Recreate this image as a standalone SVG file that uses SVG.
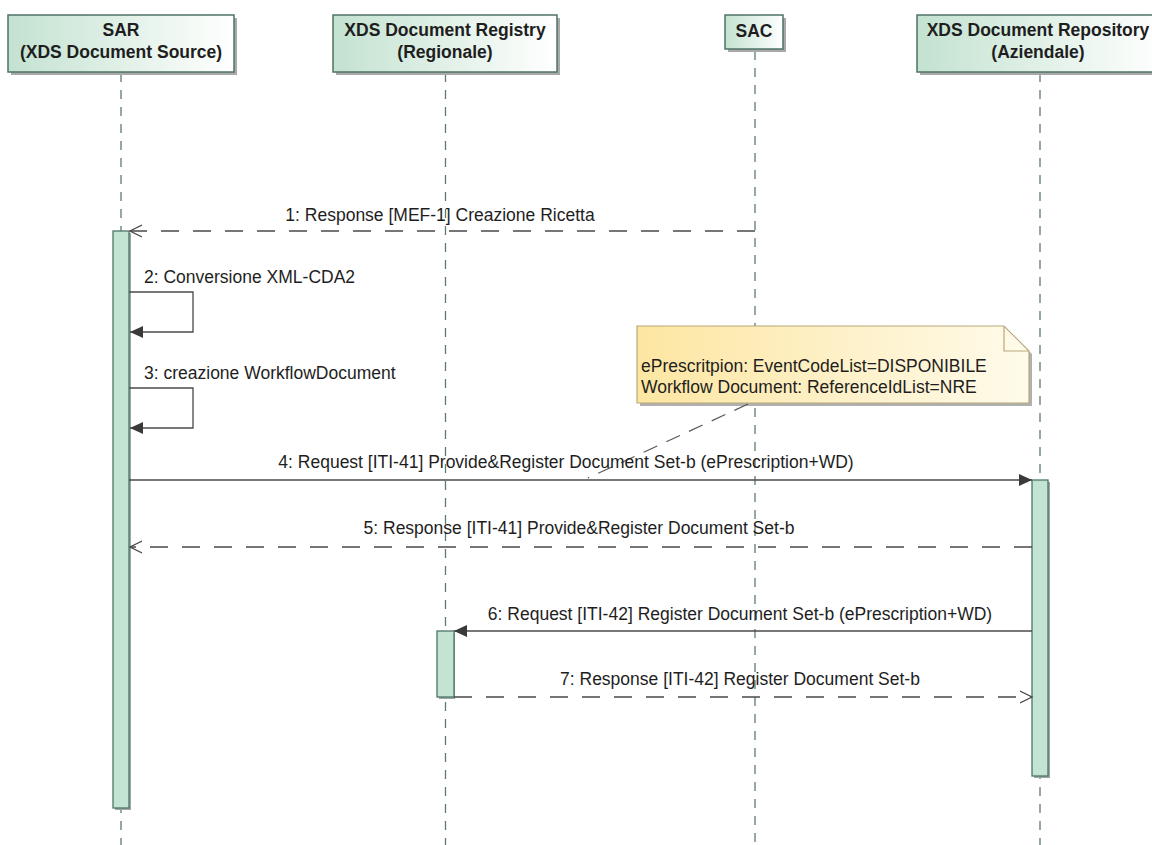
<svg xmlns="http://www.w3.org/2000/svg" width="1152" height="845" viewBox="0 0 1152 845">
<style>
text{font-family:"Liberation Sans",Arial,Helvetica,sans-serif;fill:#1e1e1e}
.hd{font-size:17.5px;font-weight:bold;text-anchor:middle}
.lb{font-size:17.5px}
.mid{text-anchor:middle}
.box{fill:url(#hg);stroke:#4f7366;stroke-width:1.5}
.shd{fill:#a9a9a9}
.life{stroke:#5d7b70;stroke-width:1.3;stroke-dasharray:9,8;fill:none}
.act{fill:#c4e4d3;stroke:#4d7566;stroke-width:1.3}
.msg{stroke:#4a4a4a;stroke-width:1.3;fill:none}
.dash{stroke-dasharray:18,14}
</style>
<defs>
<linearGradient id="hg" x1="0" y1="0" x2="1" y2="0">
<stop offset="0" stop-color="#c3e2d0"/>
<stop offset="1" stop-color="#ffffff"/>
</linearGradient>
<linearGradient id="ng" x1="0" y1="0" x2="1" y2="0">
<stop offset="0" stop-color="#fde6a2"/>
<stop offset="1" stop-color="#fffbeb"/>
</linearGradient>
<marker id="fill" markerWidth="14" markerHeight="12" refX="13" refY="6" orient="auto" markerUnits="userSpaceOnUse">
<path d="M0,0 L13,6 L0,12 Z" fill="#3a3a3a"/>
</marker>
<marker id="open" markerWidth="14" markerHeight="14" refX="12" refY="7" orient="auto" markerUnits="userSpaceOnUse">
<path d="M0,1 L12,7 L0,13" fill="none" stroke="#4a4a4a" stroke-width="1.3"/>
</marker>
</defs>
<rect width="1152" height="845" fill="#ffffff"/>

<g id="lifelines">
<line class="life" x1="121" y1="73" x2="121" y2="845"/>
<line class="life" x1="445.5" y1="73" x2="445.5" y2="845"/>
<line class="life" x1="755" y1="51" x2="755" y2="845"/>
<line class="life" x1="1040" y1="73" x2="1040" y2="845"/>
</g>

<g id="SAR">
<rect class="shd" x="11" y="18" width="226" height="57"/>
<rect class="box" x="8" y="15" width="226" height="57"/>
<text class="hd" x="121" y="36">SAR</text>
<text class="hd" x="121" y="58">(XDS Document Source)</text>
</g>
<g id="Registry">
<rect class="shd" x="336" y="18" width="224" height="57"/>
<rect class="box" x="333" y="15" width="224" height="57"/>
<text class="hd" x="445" y="36">XDS Document Registry</text>
<text class="hd" x="445" y="58">(Regionale)</text>
</g>
<g id="SAC">
<rect class="shd" x="728" y="18" width="58" height="34"/>
<rect class="box" x="725" y="15" width="58" height="34"/>
<text class="hd" x="754" y="37">SAC</text>
</g>
<g id="Repository">
<rect class="shd" x="920" y="18" width="246" height="57"/>
<rect class="box" x="917" y="15" width="246" height="57"/>
<text class="hd" x="1038" y="36">XDS Document Repository</text>
<text class="hd" x="1038" y="58">(Aziendale)</text>
</g>

<g id="activations">
<rect x="115" y="233" width="16" height="577" fill="#9aa9a2"/>
<rect class="act" x="113" y="231" width="16" height="577"/>
<rect x="439" y="633" width="16" height="66" fill="#9aa9a2"/>
<rect class="act" x="437" y="631" width="17" height="66"/>
<rect x="1034" y="482" width="16" height="296" fill="#9aa9a2"/>
<rect class="act" x="1032" y="480" width="16" height="296"/>
</g>

<g id="note">
<polygon points="640,329 1007,329 1032,354 1032,406 640,406" fill="#b0b0b0"/>
<polygon points="637,326 1004,326 1029,351 1029,403 637,403" fill="url(#ng)" stroke="#b9a878" stroke-width="1.2"/>
<polyline points="1004,326 1004,351 1029,351" fill="none" stroke="#b9a878" stroke-width="1.2"/>
<text class="lb" x="641" y="372">ePrescritpion: EventCodeList=DISPONIBILE</text>
<text class="lb" x="641" y="393">Workflow Document: ReferenceIdList=NRE</text>
</g>

<g id="connectors">
<line x1="748" y1="404" x2="588" y2="478" stroke="#5a5a5a" stroke-width="1.3" stroke-dasharray="15,10"/>

<line class="msg dash" x1="755" y1="231" x2="130" y2="231" marker-end="url(#open)"/>
<text class="lb mid" x="440" y="221">1: Response [MEF-1] Creazione Ricetta</text>

<polyline class="msg" points="129,292 193,292 193,332 130,332" marker-end="url(#fill)"/>
<text class="lb" x="144" y="283">2: Conversione XML-CDA2</text>

<polyline class="msg" points="129,388 193,388 193,428 130,428" marker-end="url(#fill)"/>
<text class="lb" x="144" y="379">3: creazione WorkflowDocument</text>

<line class="msg" x1="129" y1="480" x2="1032" y2="480" marker-end="url(#fill)"/>
<text class="lb mid" x="566" y="468">4: Request [ITI-41] Provide&amp;Register Document Set-b (ePrescription+WD)</text>

<line class="msg dash" x1="1032" y1="547" x2="130" y2="547" marker-end="url(#open)"/>
<text class="lb mid" x="579" y="534">5: Response [ITI-41] Provide&amp;Register Document Set-b</text>

<line class="msg" x1="1032" y1="631" x2="454" y2="631" marker-end="url(#fill)"/>
<text class="lb mid" x="740" y="620">6: Request [ITI-42] Register Document Set-b (ePrescription+WD)</text>

<line class="msg dash" x1="454" y1="697" x2="1032" y2="697" marker-end="url(#open)"/>
<text class="lb mid" x="740" y="685">7: Response [ITI-42] Register Document Set-b</text>
</g>
</svg>
